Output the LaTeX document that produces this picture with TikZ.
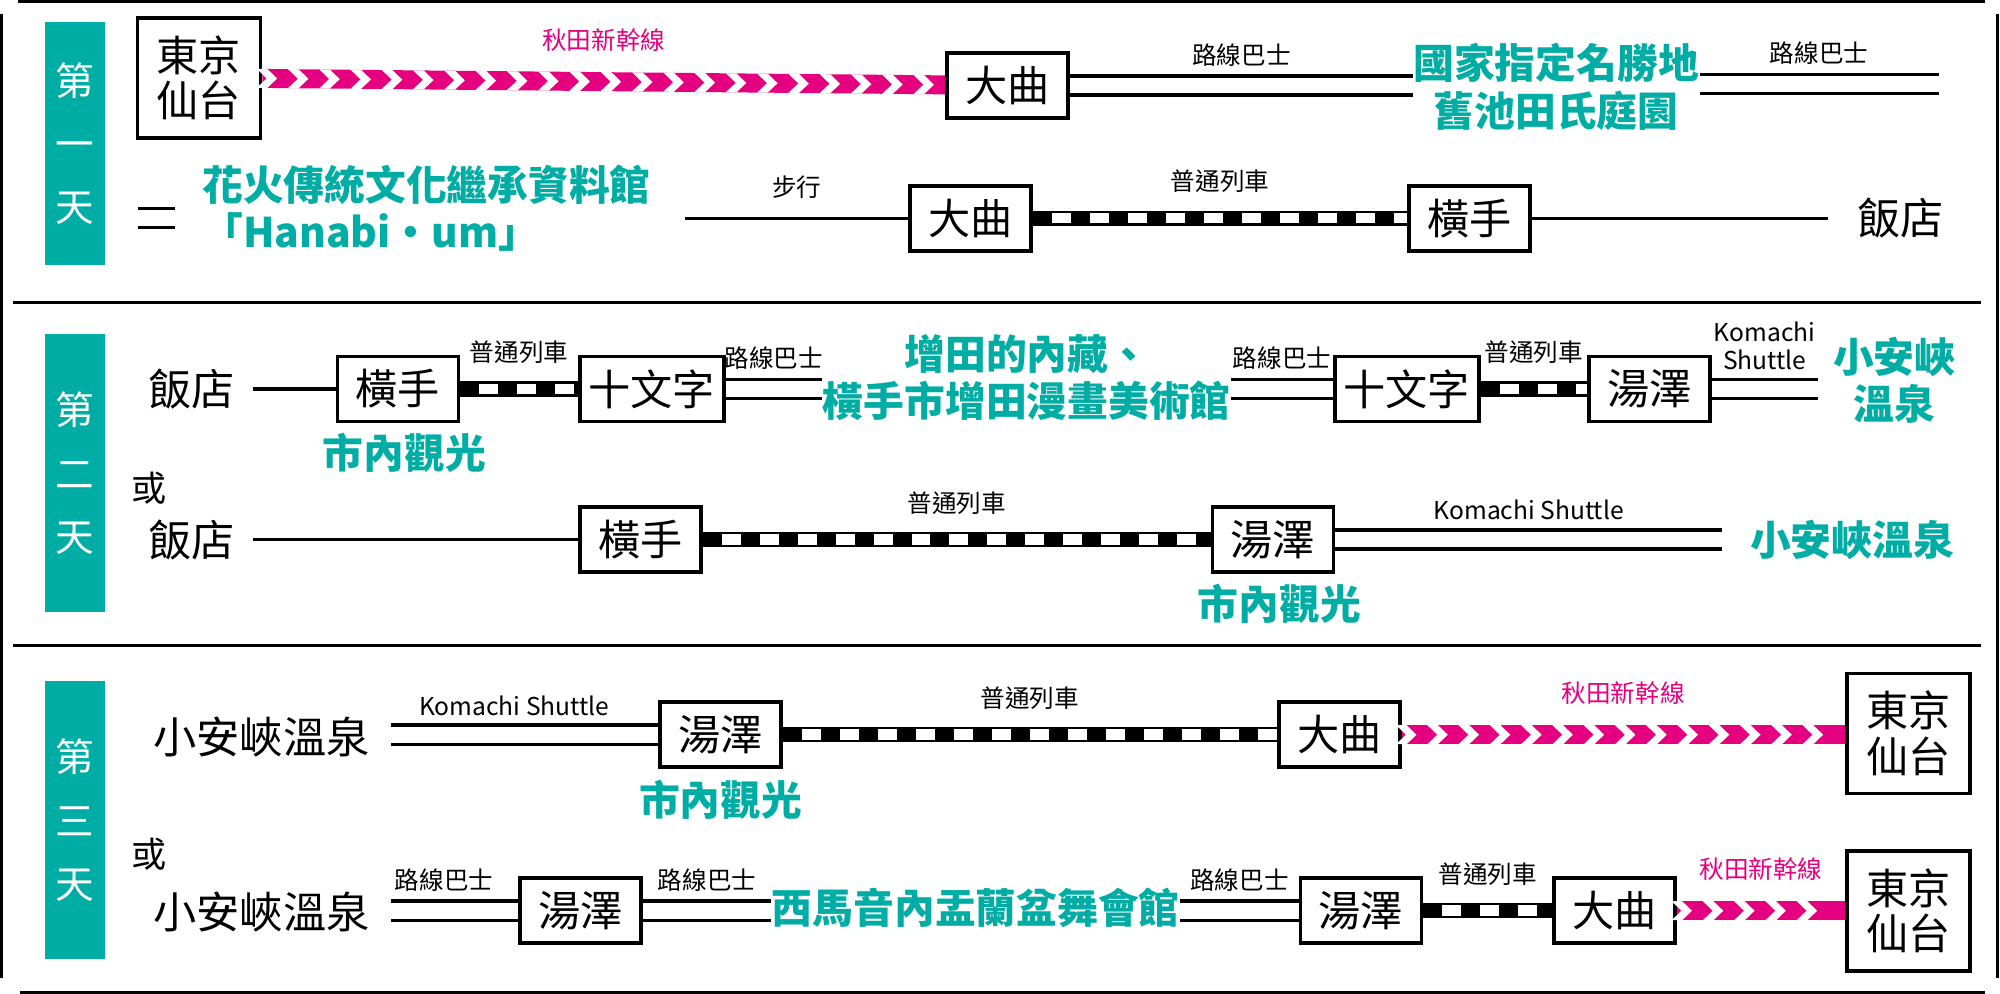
\documentclass[tikz,border=0pt]{standalone}
\usepackage{fontspec}
\setmainfont{Noto Sans CJK TC}
\usetikzlibrary{decorations.markings}
\definecolor{teal1}{HTML}{00ADA4}
\definecolor{shinmag}{HTML}{E4007F}
\tikzset{
  stn/.style={draw, line width=1.1pt, fill=white, minimum width=1.21cm, minimum height=0.65cm, inner sep=0pt, font=\fontsize{12}{13}\selectfont},
  big/.style={draw, line width=1.1pt, fill=white, minimum width=1.23cm, minimum height=1.2cm, inner sep=0pt, align=center, font=\fontsize{12}{13}\selectfont},
  place/.style={inner sep=0pt, font=\fontsize{12.3}{13}\selectfont},
  spot/.style={inner sep=0pt, text=teal1, align=center, font=\fontsize{11.6}{13.5}\selectfont\bfseries},
  lbl/.style={inner sep=0pt, font=\fontsize{7}{8}\selectfont},
  day/.style={fill=teal1, text=white, minimum width=0.6cm, align=center, inner sep=0pt, font=\fontsize{11}{18}\selectfont},
  walk/.style={line width=0.9pt},
  bus/.style={draw=black, line width=0.95pt, double=white, double distance=4.5pt},
  train/.style={draw=black, line width=4.3pt, postaction={draw=white, line width=3pt, dash pattern=on 5.4pt off 5.4pt, dash phase=5.4pt}},
  shin/.style={draw=shinmag, line width=5.4pt, postaction={decorate}, decoration={markings,
    mark=between positions 3pt and -3pt step 8.9pt with {\fill[white] (-4.6pt,2.7pt) -- (-1.6pt,2.7pt) -- (1.2pt,0pt) -- (-1.6pt,-2.7pt) -- (-4.6pt,-2.7pt) -- (-1.8pt,0pt) -- cycle;}}},
}
\begin{document}
\begin{tikzpicture}[x=0.012755cm, y=-0.012755cm]
\useasboundingbox (0,0) rectangle (1568,779);

% frame
\draw[line width=1pt] (14,1) -- (1556,1);
\draw[line width=1pt] (1,11) -- (1,767);
\draw[line width=1pt] (1566,11) -- (1566,767);
\draw[line width=1pt] (10,237) -- (1553,237);
\draw[line width=1pt] (10,506) -- (1553,506);
\draw[line width=1pt] (16,778) -- (1556,778);

% days
\node[day, minimum height=191*0.012755cm] (d1) at (58.5,112.5) {第\\一\\天};
\node[day, minimum height=218*0.012755cm] (d2) at (58.5,371) {第\\二\\天};
\node[day, minimum height=218*0.012755cm] (d3) at (58.5,643) {第\\三\\天};

% day 1, row 1
\node[big, minimum width=1.23cm] (tk1) at (156,61) {東京\\仙台};
\node[stn] (dq1) at (790,67) {大曲};
\node[spot] (garden) at (1220,68) {國家指定名勝地\\舊池田氏庭園};
\coordinate (e1) at (1520,66);
\draw[shin] (tk1) -- (dq1) node[midway, above=6pt, lbl, text=shinmag] {秋田新幹線};
\draw[bus] (dq1) -- (garden.west|-dq1) node[midway, above=5pt, lbl] {路線巴士};
\draw[bus] (garden.east|-e1) -- (e1) node[midway, above=5pt, lbl] {路線巴士};

% day 1, row 2
\coordinate (s0) at (108,171);
\coordinate (s1) at (137,171);
\draw[bus] (s0) -- (s1);
\node[spot, anchor=west, align=left] (hanabi) at (158,163) {花火傳統文化繼承資料館\\「Hanabi・um」};
\coordinate (w0) at (537,171);
\node[stn] (dq2) at (761,171) {大曲};
\node[stn] (ht1) at (1152,171) {橫手};
\node[place] (ht0) at (1490,171) {飯店};
\draw[walk] (w0) -- (dq2) node[midway, above=5pt, lbl] {步行};
\draw[train] (dq2) -- (ht1) node[midway, above=5pt, lbl] {普通列車};
\draw[walk, shorten >=8pt] (ht1) -- (ht0.west);

% day 2, row 1
\node[place] (h2) at (150,305) {飯店};
\node[stn] (yt2) at (312,305) {橫手};
\node[stn, minimum width=1.44cm] (jm1) at (511,305) {十文字};
\node[spot] (masuda) at (805,296) {增田的內藏、\\橫手市增田漫畫美術館};
\node[stn, minimum width=1.44cm] (jm2) at (1103,305) {十文字};
\node[stn] (yz1) at (1293,305) {湯澤};
\coordinate (e2) at (1425,305);
\node[spot] (oy1) at (1485,298) {小安峽\\溫泉};
\node[spot] (tour1) at (317,355) {市內觀光};
\draw[walk, shorten <=5pt] (h2) -- (yt2);
\draw[train] (yt2) -- (jm1) node[midway, above=5pt, lbl] {普通列車};
\draw[bus] (jm1) -- (masuda.west|-jm1) node[midway, above=5pt, lbl] {路線巴士};
\draw[bus] (masuda.east|-jm2) -- (jm2) node[midway, above=5pt, lbl] {路線巴士};
\draw[train] (jm2) -- (yz1) node[midway, above=5pt, lbl] {普通列車};
\draw[bus] (yz1) -- (e2) node[midway, above=5pt, lbl, align=center] {Komachi\\Shuttle};
\node[place, font=\fontsize{10}{11}\selectfont] (or1) at (117,383) {或};

% day 2, row 2
\node[place] (h3) at (150,423) {飯店};
\node[stn] (yt3) at (502,423) {橫手};
\node[stn] (yz2) at (998,423) {湯澤};
\coordinate (e3) at (1350,423);
\node[spot] (oy2) at (1452,423) {小安峽溫泉};
\node[spot] (tour2) at (1003,473) {市內觀光};
\draw[walk, shorten <=5pt] (h3) -- (yt3);
\draw[train] (yt3) -- (yz2) node[midway, above=5pt, lbl] {普通列車};
\draw[bus] (yz2) -- (e3) node[midway, above=5pt, lbl] {Komachi Shuttle};

% day 3, row 1
\node[place] (oy3) at (205,578) {小安峽溫泉};
\node[stn] (yz3) at (565,576) {湯澤};
\node[stn] (dq3) at (1050,576) {大曲};
\node[big] (tk2) at (1496,575) {東京\\仙台};
\node[spot] (tour3) at (565,627) {市內觀光};
\draw[bus, shorten <=6pt] (oy3.east|-yz3) -- (yz3) node[midway, above=5pt, lbl] {Komachi Shuttle};
\draw[train] (yz3) -- (dq3) node[midway, above=5pt, lbl] {普通列車};
\draw[shin] (dq3) -- (tk2.west|-dq3) node[midway, above=6pt, lbl, text=shinmag] {秋田新幹線};
\node[place, font=\fontsize{10}{11}\selectfont] (or2) at (117,670) {或};

% day 3, row 2
\node[place] (oy4) at (205,715) {小安峽溫泉};
\node[stn] (yz4) at (455,714) {湯澤};
\node[spot] (nishi) at (765,712) {西馬音內盂蘭盆舞會館};
\node[stn] (yz5) at (1067,714) {湯澤};
\node[stn] (dq4) at (1266,714) {大曲};
\node[big] (tk3) at (1496,714) {東京\\仙台};
\draw[bus, shorten <=6pt] (oy4.east|-yz4) -- (yz4) node[midway, above=5pt, lbl] {路線巴士};
\draw[bus] (yz4) -- (nishi.west|-yz4) node[midway, above=5pt, lbl] {路線巴士};
\draw[bus] (nishi.east|-yz5) -- (yz5) node[midway, above=5pt, lbl] {路線巴士};
\draw[train] (yz5) -- (dq4) node[midway, above=5pt, lbl] {普通列車};
\draw[shin] (dq4) -- (tk3) node[midway, above=6pt, lbl, text=shinmag] {秋田新幹線};
\end{tikzpicture}
\end{document}
